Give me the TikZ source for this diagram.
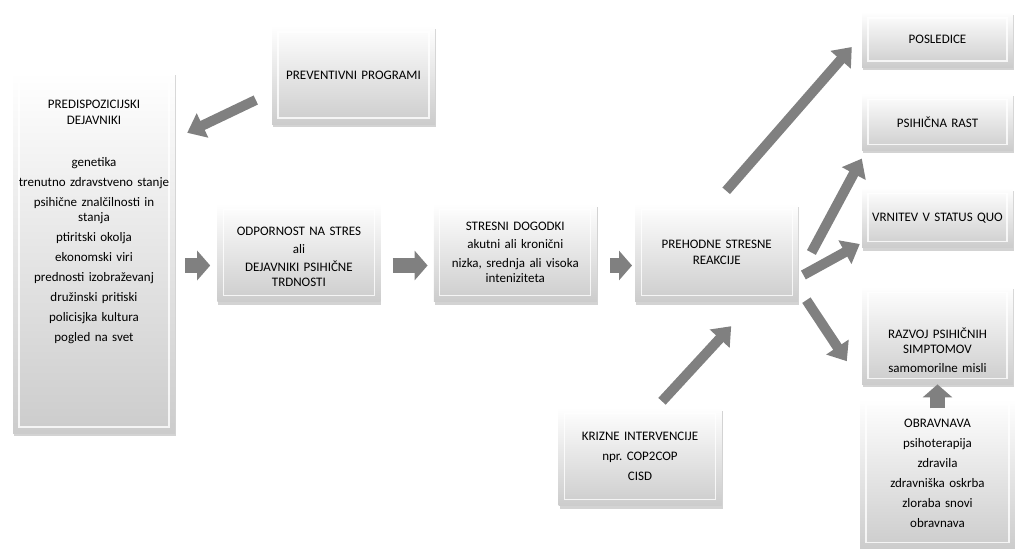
\documentclass[tikz,border=0pt]{standalone}
\usepackage{fontspec}
\setmainfont{Carlito}
\usetikzlibrary{positioning}
\usetikzlibrary{calc}
\usetikzlibrary{arrows.meta}
\usetikzlibrary{shadows}

\begin{document}
\begin{tikzpicture}[
    x=1pt, y=-1pt,              % pixel units, y runs downwards
    node distance=40pt and 40pt,
    ]
% -------------------------------------------------
\tikzset{
  box/.style={rectangle, top color=white, bottom color=gray!40, draw=none,
    drop shadow={shadow xshift=1pt, shadow yshift=-3pt, opacity=.35},
    path picture={\draw[white, opacity=.8, line width=1.2pt]
      ([shift={(6pt,-6pt)}]path picture bounding box.north west) rectangle
      ([shift={(-6pt,6pt)}]path picture bounding box.south east);},
    align=center, inner sep=1pt, text width=158pt,
    minimum width=163pt, minimum height=98pt,
    font=\fontsize{13}{15.5}\selectfont\frenchspacing},
  outbox/.style={box, text width=146pt, minimum width=151pt},
  blk/.style={draw=gray, line width=10pt, -{Triangle[width=26pt,length=17pt]}},
  fat/.style={draw=gray, line width=15pt, -{Triangle[width=29pt,length=13pt]}}
}
\useasboundingbox (0,0) rectangle (1015,549);
% -------------------------------------------------
% Placing the nodes

\node [box, minimum width=162pt, minimum height=361pt] (pred) at (94,252.5)
  {PREDISPOZICIJSKI\\DEJAVNIKI\\[26.5pt] genetika\\[4.5pt] trenutno zdravstveno stanje\\[4.5pt]
   psihične znalčilnosti in\\stanja\\[4.5pt] ptiritski okolja\\[4.5pt] ekonomski viri\\[4.5pt]
   prednosti izobraževanj\\[4.5pt] družinski pritiski\\[4.5pt] policisjka kultura\\[4.5pt]
   pogled na svet\\[47pt]\mbox{}};
\node [box, right=42pt of pred] (odp) {\mbox{}\\[1.5pt]ODPORNOST NA STRES\\[2.5pt] ali\\[2.5pt] DEJAVNIKI PSIHIČNE\\TRDNOSTI};
\node [box, right=53pt of odp] (str) {STRESNI DOGODKI\\[3pt] akutni ali kronični\\[3pt] nizka, srednja ali visoka\\inteniziteta};
\node [box, right=38pt of str] (pre) {PREHODNE STRESNE\\REAKCIJE};

\node [box] (prev) at (353.5,75) {PREVENTIVNI PROGRAMI};
\node [box] (kri) at (640,456.5) {KRIZNE INTERVENCIJE\\[4.5pt] npr. COP2COP\\[4.5pt] CISD};

\node [outbox, minimum height=55pt] (pos) at (937.5,39.5) {POSLEDICE};
\node [outbox, minimum height=57pt, below=26pt of pos] (psi) {PSIHIČNA RAST};
\node [outbox, minimum height=60pt, below=37pt of psi] (vrn) {VRNITEV V STATUS QUO};
\node [outbox, below=38pt of vrn] (raz) {\mbox{}\\[25pt]RAZVOJ PSIHIČNIH\\SIMPTOMOV\\[3pt] samomorilne misli};
\node [outbox, minimum width=155pt, minimum height=150pt, below=14pt of raz] (obr)
  {OBRAVNAVA\\[4.5pt] psihoterapija\\[4.5pt] zdravila\\[4.5pt] zdravniška oskrba\\[4.5pt]
   zloraba snovi\\[4.5pt] obravnava};

% main row
\draw [fat, shorten <=10pt, shorten >=7pt] ([yshift=-13pt]pred.east) -- ([yshift=-13pt]odp.west);
\draw [fat, shorten <=12pt, shorten >=6pt] ([yshift=-13pt]odp.east) -- ([yshift=-13pt]str.west);
\draw [fat, shorten <=13pt, shorten >=3pt] ([yshift=-13pt]str.east) -- ([yshift=-13pt]pre.west);

% inputs
\draw [blk] ([shift={(-16,25)}]prev.west) -- ([shift={(12,61)}]pred.north east);
\draw [blk] ([shift={(22,-6)}]kri.north) -- ([shift={(14.5,24.5)}]pre.south);
\draw [fat] ([shift={(0,10)}]obr.north) -- (raz.south);

% outcomes
\draw [blk] ([shift={(9.5,-12.5)}]pre.north) -- ([shift={(-10,7.5)}]pos.west);
\draw [blk] ([shift={(13,0)}]pre.east) -- ([shift={(0,8)}]psi.south west);
\draw [blk] ([shift={(5,22.5)}]pre.east) -- ([shift={(-2,-4)}]vrn.south west);
\draw [blk] ([shift={(8,-1.5)}]pre.south east) -- ([shift={(-15,26)}]raz.west);

\end{tikzpicture}
\end{document}
